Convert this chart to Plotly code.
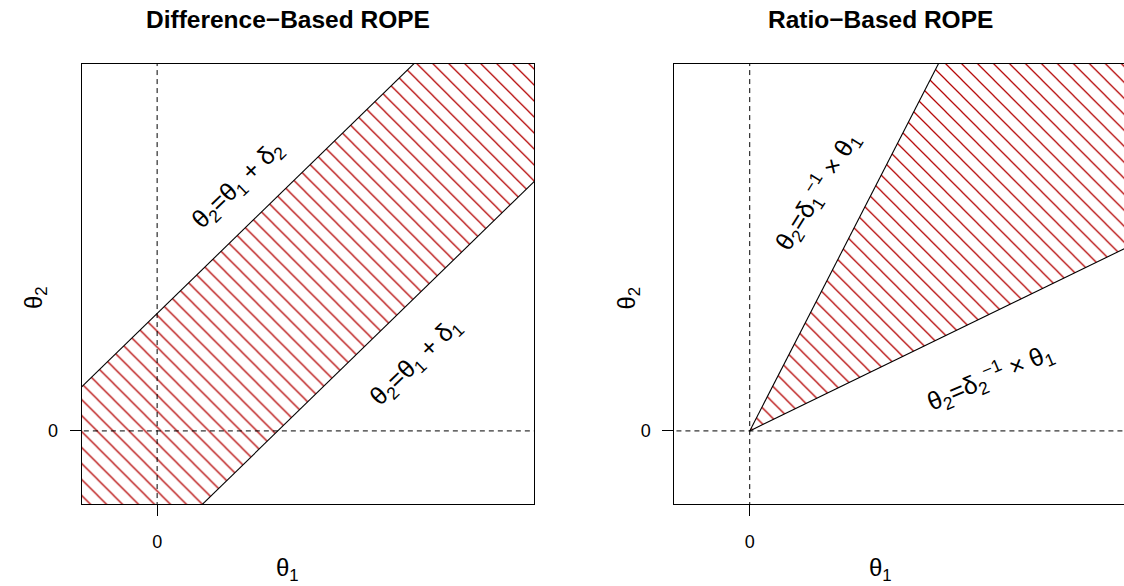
import plotly.graph_objects as go

# ---------------- data ----------------
theta_range = [-1.0, 5.0]           # common limits for theta1 / theta2
diff_deltas = [-1.6, 1.6]           # delta1, delta2 (difference-based ROPE)
ratio_deltas = [0.5, 2.0]           # delta1, delta2 (ratio-based ROPE)
ref_values = [0]                    # reference lines / ticks
tick_labels = ["0"]
panel_titles = ["Difference\u2212Based ROPE", "Ratio\u2212Based ROPE"]
x_label = "\u03b8<sub>1</sub>"
y_label = "\u03b8<sub>2</sub>"
diff_texts = ["\u03b8<sub>2</sub>=\u03b8<sub>1</sub> + \u03b4<sub>2</sub>",
              "\u03b8<sub>2</sub>=\u03b8<sub>1</sub> + \u03b4<sub>1</sub>"]
ratio_texts = ["\u03b8<sub>2</sub>=\u03b4<sub>1</sub><sup>\u22121</sup> \u00d7 \u03b8<sub>1</sub>",
               "\u03b8<sub>2</sub>=\u03b4<sub>2</sub><sup>\u22121</sup> \u00d7 \u03b8<sub>1</sub>"]

# ---------------- layout geometry (pixels) ----------------
W, H = 1124, 586
BOX_L1, BOX_R1 = 81.7, 534.3
BOX_L2 = 674.3
BOX_T, BOX_B = 64.0, 504.3
px_per_unit = (BOX_R1 - BOX_L1) / (theta_range[1] - theta_range[0])
right_xmax = theta_range[0] + (W - BOX_L2) / px_per_unit

FONT = "Liberation Sans, Arial, Helvetica, sans-serif"
HATCH = "#b40000"

def px(x):
    return x / W

def py(y):
    return 1 - y / H

fig = go.Figure()

lo, hi = theta_range[0] - 2, theta_range[1] + 2
d1, d2 = diff_deltas

pattern = dict(shape="\\", size=11.3, solidity=0.11, fgcolor=HATCH,
               bgcolor="rgba(255,255,255,0)", fgopacity=1)

# ---- panel 1: difference band ----
fig.add_trace(go.Scatter(
    x=[lo, hi, hi, lo, lo], y=[lo + d1, hi + d1, hi + d2, lo + d2, lo + d1],
    mode="none", fill="toself", fillcolor="rgba(255,255,255,0)",
    fillpattern=pattern, xaxis="x", yaxis="y", hoverinfo="skip"))
for d in diff_deltas:
    fig.add_trace(go.Scatter(x=[lo, hi], y=[lo + d, hi + d], mode="lines",
                             line=dict(color="black", width=1.1),
                             xaxis="x", yaxis="y", hoverinfo="skip"))

# ---- panel 2: ratio wedge ----
r1, r2 = ratio_deltas
fig.add_trace(go.Scatter(
    x=[0, hi, hi, 0], y=[0, hi / r2, hi / r1, 0],
    mode="none", fill="toself", fillcolor="rgba(255,255,255,0)",
    fillpattern=pattern, xaxis="x2", yaxis="y2", hoverinfo="skip"))
for d in ratio_deltas:
    fig.add_trace(go.Scatter(x=[0, hi], y=[0, hi / d], mode="lines",
                             line=dict(color="black", width=1.1),
                             xaxis="x2", yaxis="y2", hoverinfo="skip"))

# ---- dashed reference lines ----
for xa, ya in (("x", "y"), ("x2", "y2")):
    for v in ref_values:
        fig.add_trace(go.Scatter(x=[v, v], y=[lo, hi], mode="lines",
                                 line=dict(color="black", width=1, dash="5px,4px"),
                                 xaxis=xa, yaxis=ya, hoverinfo="skip"))
        fig.add_trace(go.Scatter(x=[lo, hi], y=[v, v], mode="lines",
                                 line=dict(color="black", width=1, dash="5px,4px"),
                                 xaxis=xa, yaxis=ya, hoverinfo="skip"))

axis_common = dict(showgrid=False, zeroline=False, showline=True, linecolor="black",
                   linewidth=1, ticks="outside", ticklen=11, tickwidth=1,
                   tickcolor="black", tickvals=ref_values, ticktext=tick_labels,
                   tickfont=dict(family=FONT, size=18, color="black"))

ydom = [py(BOX_B), py(BOX_T)]
fig.update_layout(
    width=W, height=H, margin=dict(l=0, r=0, t=0, b=0),
    paper_bgcolor="white", plot_bgcolor="white", showlegend=False,
    hovermode=False,
    xaxis=dict(domain=[px(BOX_L1), px(BOX_R1)], range=theta_range, mirror=True,
               anchor="y", ticklabelstandoff=10, **axis_common),
    yaxis=dict(domain=ydom, range=theta_range, mirror=True, anchor="x",
               ticklabelstandoff=8, **axis_common),
    xaxis2=dict(domain=[px(BOX_L2), 1.0], range=[theta_range[0], right_xmax],
                mirror=True, anchor="y2", ticklabelstandoff=10, **axis_common),
    yaxis2=dict(domain=ydom, range=theta_range, mirror=False, anchor="x2",
                ticklabelstandoff=8, **axis_common),
)

ann = []
def add_text(text, x, y, size, angle=0, bold=False):
    t = f"<b>{text}</b>" if bold else text
    ann.append(dict(text=t, x=px(x), y=py(y), xref="paper", yref="paper",
                    xanchor="center", yanchor="middle", showarrow=False,
                    textangle=angle, font=dict(family=FONT, size=size, color="black")))

# titles
add_text(panel_titles[0], 287.5, 19, 24.5, bold=True)
add_text(panel_titles[1], 880, 19, 24.5, bold=True)
# axis labels
add_text(x_label, 287, 569, 24)
add_text(x_label, 880, 569, 24)
add_text(y_label, 35, 298, 24, angle=-90)
add_text(y_label, 627.6, 298, 24, angle=-90)
# line labels
add_text(diff_texts[0], 238, 185, 25, angle=-44)
add_text(diff_texts[1], 416, 362, 25, angle=-44)
add_text(ratio_texts[0], 817, 191, 25, angle=-58)
add_text(ratio_texts[1], 990, 377, 25, angle=-23)

fig.update_layout(annotations=ann)

fig.write_html("out.html", config={"displayModeBar": False, "staticPlot": True},
               post_script="document.body.style.margin='0';")
